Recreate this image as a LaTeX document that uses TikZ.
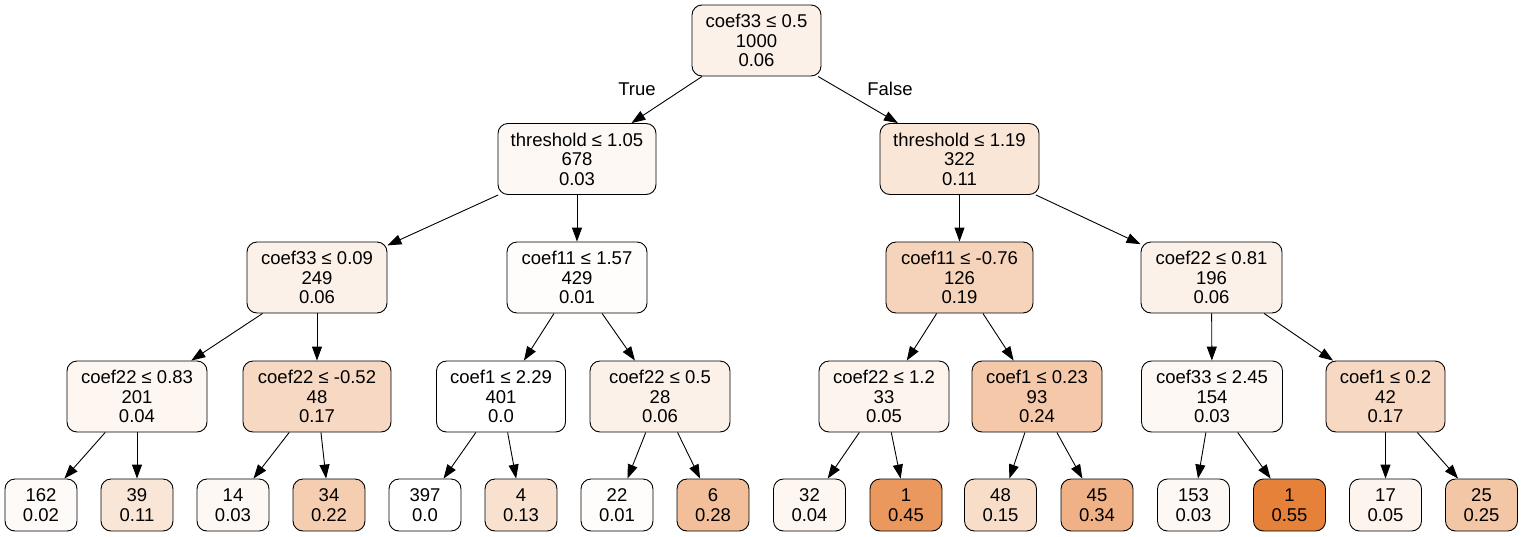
\documentclass[tikz,border=0pt]{standalone}
\usepackage{fontspec}
\setmainfont{Liberation Sans}
\usetikzlibrary{arrows.meta}
\definecolor{dtorange}{RGB}{229,129,57}
\begin{document}
\begin{tikzpicture}[x=1pt,y=-1pt,
  every node/.style={font=\fontsize{18.5}{19.5}\selectfont},
  split/.style={draw, rounded corners=10pt, line width=0.9pt,
    minimum height=71pt, align=center, inner sep=0pt},
  leafbox/.style={draw, rounded corners=10pt, line width=0.9pt,
    minimum width=72pt, minimum height=52pt, align=center, inner sep=0pt},
  branch/.style={-{Triangle[length=14pt,width=10pt]}, line width=0.9pt}]
\useasboundingbox[fill=white] (0,0) rectangle (1523,536);

% decision nodes
\node[split, minimum width=129pt, fill=dtorange!10.9] (n0) at (756.5,40.5) {coef33 ≤ 0.5\\1000\\0.06};
\node[split, minimum width=158pt, fill=dtorange!5.5]  (n1) at (577,159) {threshold ≤ 1.05\\678\\0.03};
\node[split, minimum width=159pt, fill=dtorange!20]   (n2) at (959.5,159) {threshold ≤ 1.19\\322\\0.11};
\node[split, minimum width=140pt, fill=dtorange!10.9] (n3) at (317,277.5) {coef33 ≤ 0.09\\249\\0.06};
\node[split, minimum width=140pt, fill=dtorange!1.8]  (n4) at (577,277.5) {coef11 ≤ 1.57\\429\\0.01};
\node[split, minimum width=147pt, fill=dtorange!34.5] (n5) at (959.5,277.5) {coef11 ≤ -0.76\\126\\0.19};
\node[split, minimum width=141pt, fill=dtorange!10.9] (n6) at (1211.5,277.5) {coef22 ≤ 0.81\\196\\0.06};
\node[split, minimum width=140pt, fill=dtorange!7.3]  (n7) at (137,396.5) {coef22 ≤ 0.83\\201\\0.04};
\node[split, minimum width=148pt, fill=dtorange!30.9] (n8) at (317,396.5) {coef22 ≤ -0.52\\48\\0.17};
\node[split, minimum width=129pt, fill=white]         (n9) at (501,396.5) {coef1 ≤ 2.29\\401\\0.0};
\node[split, minimum width=140pt, fill=dtorange!10.9] (n10) at (660,396.5) {coef22 ≤ 0.5\\28\\0.06};
\node[split, minimum width=130pt, fill=dtorange!9.1]  (n11) at (884,396.5) {coef22 ≤ 1.2\\33\\0.05};
\node[split, minimum width=130pt, fill=dtorange!43.6] (n12) at (1037,396.5) {coef1 ≤ 0.23\\93\\0.24};
\node[split, minimum width=141pt, fill=dtorange!5.5]  (n13) at (1212,396.5) {coef33 ≤ 2.45\\154\\0.03};
\node[split, minimum width=119pt, fill=dtorange!30.9] (n14) at (1385.5,396.5) {coef1 ≤ 0.2\\42\\0.17};

% leaves
\node[leafbox, fill=dtorange!3.6]  (l1)  at (41,505)     {162\\0.02};
\node[leafbox, fill=dtorange!20]   (l2)  at (137,505)    {39\\0.11};
\node[leafbox, fill=dtorange!5.5]  (l3)  at (233,505)    {14\\0.03};
\node[leafbox, fill=dtorange!40]   (l4)  at (329,505)    {34\\0.22};
\node[leafbox, fill=white]         (l5)  at (425,505)    {397\\0.0};
\node[leafbox, fill=dtorange!23.6] (l6)  at (521,505)    {4\\0.13};
\node[leafbox, fill=dtorange!1.8]  (l7)  at (617,505)    {22\\0.01};
\node[leafbox, fill=dtorange!50.9] (l8)  at (713,505)    {6\\0.28};
\node[leafbox, fill=dtorange!7.3]  (l9)  at (809.5,505)  {32\\0.04};
\node[leafbox, fill=dtorange!81.8] (l10) at (906,505)    {1\\0.45};
\node[leafbox, fill=dtorange!27.3] (l11) at (1000.5,505) {48\\0.15};
\node[leafbox, fill=dtorange!61.8] (l12) at (1097,505)   {45\\0.34};
\node[leafbox, fill=dtorange!5.5]  (l13) at (1193.5,505) {153\\0.03};
\node[leafbox, fill=dtorange!100]  (l14) at (1289.5,505) {1\\0.55};
\node[leafbox, fill=dtorange!9.1]  (l15) at (1385.5,505) {17\\0.05};
\node[leafbox, fill=dtorange!45.5] (l16) at (1481.5,505) {25\\0.25};

% branch labels
\node (ltrue)  at (637,89) {True};
\node (lfalse) at (890,89) {False};

% branches
\foreach \a/\b in {n0/n1, n0/n2, n1/n3, n1/n4, n2/n5, n2/n6,
                   n3/n7, n3/n8, n4/n9, n4/n10, n5/n11, n5/n12, n6/n13, n6/n14,
                   n7/l1, n7/l2, n8/l3, n8/l4, n9/l5, n9/l6, n10/l7, n10/l8,
                   n11/l9, n11/l10, n12/l11, n12/l12, n13/l13, n13/l14, n14/l15, n14/l16}
  \draw[branch] (\a) -- (\b);
\end{tikzpicture}
\end{document}
